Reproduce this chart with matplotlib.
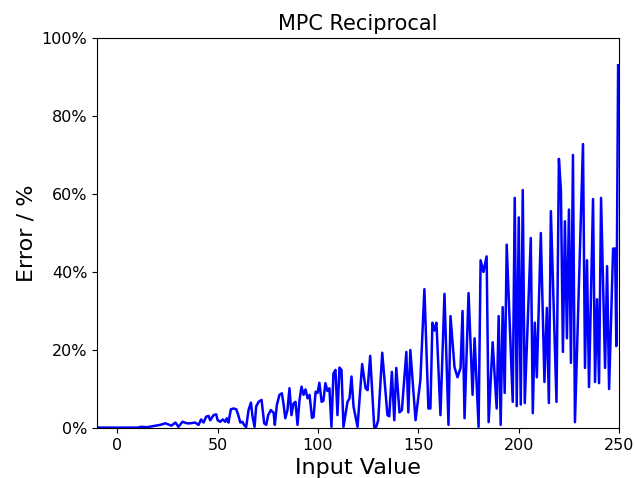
import numpy as np
import matplotlib
matplotlib.use("Agg")
import matplotlib.pyplot as plt
from matplotlib.ticker import PercentFormatter

# input value / error [%]
input_vals = [-10, 0, 10, 12, 15, 18, 21.4, 24, 27, 29, 30.5, 32.5, 34.7, 36.4, 38.8, 40.5,
              41.8, 43, 44.3, 45.5, 46.3, 48, 49.3, 50, 51.3, 52.6, 53.8, 54.6, 55.4,
              56.6, 58, 59.3, 60.3, 61.3, 62.3, 63.2, 64.2, 65.4, 66.6, 67.4, 68.4,
              69.2, 70.4, 71.9, 73.2, 74.2, 75.2, 76.5, 77.9, 78.5, 79.5, 80.8, 82,
              82.8, 83.7, 84.8, 85.8, 86.8, 87.8, 88.8, 89.8, 90.8, 91.8, 92.8, 93.8,
              94.8, 95.8, 97, 97.8, 98.8, 99.8, 100.7, 101.8, 102.7, 103.7, 104.7,
              105.7, 106.7, 107.7, 108.7, 109.7, 110.7, 111.7, 112.7, 114.7, 115.7,
              116.7, 117.7, 119.7, 122, 123.7, 124.7, 126, 128, 129, 130, 132,
              134.6, 135.5, 136.8, 138, 139, 140.6, 141.8, 144, 145, 146, 148.6, 151,
              153, 155, 156, 157, 158, 159, 161, 163, 165, 166, 168, 169.5, 171,
              172, 173, 175, 177, 178, 180, 181, 182.4, 184, 185, 187, 189, 190,
              191, 192, 193, 194, 197, 198, 199, 200, 201, 202, 203, 206, 207, 208,
              209, 211, 212.8, 214, 215, 216, 218.8, 220, 221, 222, 223, 224, 225,
              226, 227, 228, 232, 233, 234, 235, 237, 238, 239, 240, 241, 243, 244,
              245, 247, 248, 248.6, 249.5]
error_pct = [0.1, 0.1, 0.1, 0.3, 0.2, 0.5, 0.8, 1.2, 0.6, 1.4, 0.3, 1.6, 1.2, 1.2, 1.4, 0.8,
             2.2, 1.4, 2.9, 3.1, 2.0, 3.3, 3.5, 2.0, 1.6, 2.2, 1.6, 2.5, 1.4,
             4.8, 5.0, 4.8, 3.3, 1.4, 1.6, 0.8, 0.2, 4.6, 6.5, 2.9, 0.3,
             5.5, 6.7, 7.2, 1.2, 0.8, 3.3, 4.6, 3.9, 0.8, 5.9, 8.5, 8.9,
             6.3, 2.5, 4.6, 10.2, 3.3, 6.3, 6.7, 0.8, 7.2, 10.6, 8.5, 9.9,
             7.6, 8.5, 2.6, 2.8, 9.3, 9.0, 11.6, 6.7, 7.0, 11.5, 9.5,
             10.2, 0.3, 14.0, 14.9, 3.3, 15.5, 14.9, 0.3, 6.7, 7.6,
             13.2, 5.5, 0.3, 16.4, 10.2, 9.7, 18.5, 0.3, 0.3, 2.0, 19.3,
             3.3, 3.0, 14.4, 2.0, 15.4, 4.0, 4.6, 19.5, 4.0, 20.0, 2.0, 12.3,
             35.6, 5.0, 5.0, 27.0, 25.0, 27.0, 3.3, 34.4, 0.8, 28.7, 15.6, 13.0, 15.4,
             30.0, 2.5, 34.6, 8.5, 23.0, 0.3, 43.0, 40.0, 44.0, 1.5, 22.0, 5.0, 28.7,
             0.8, 31.0, 9.0, 47.0, 6.7, 59.0, 5.6, 54.0, 6.0, 61.0, 6.4, 48.7, 3.8, 27.0,
             13.0, 50.0, 11.8, 30.8, 6.4, 55.6, 6.7, 69.0, 61.0, 19.5, 53.0, 23.0, 56.0,
             16.7, 70.0, 1.5, 72.8, 15.4, 43.0, 10.5, 58.7, 11.8, 33.0, 11.5, 59.0, 15.4, 41.5,
             10.0, 46.0, 46.0, 21.0, 93.0]

fig = plt.figure(figsize=(6.35, 4.78), dpi=100)
ax = fig.add_axes([0.153, 0.1046, 0.822, 0.816])
ax.plot(input_vals, error_pct, color="blue", linewidth=1.8)

ax.set_xlim(-10, 250)
ax.set_ylim(0, 100)
ax.set_xticks([0, 50, 100, 150, 200, 250])
ax.set_yticks([0, 20, 40, 60, 80, 100])
ax.yaxis.set_major_formatter(PercentFormatter(100, decimals=0))
ax.tick_params(labelsize=11.5)

ax.set_title("MPC Reciprocal", fontsize=15)
ax.set_xlabel("Input Value", fontsize=16)
ax.set_ylabel("Error / %", fontsize=16)

fig.savefig("out.png")
